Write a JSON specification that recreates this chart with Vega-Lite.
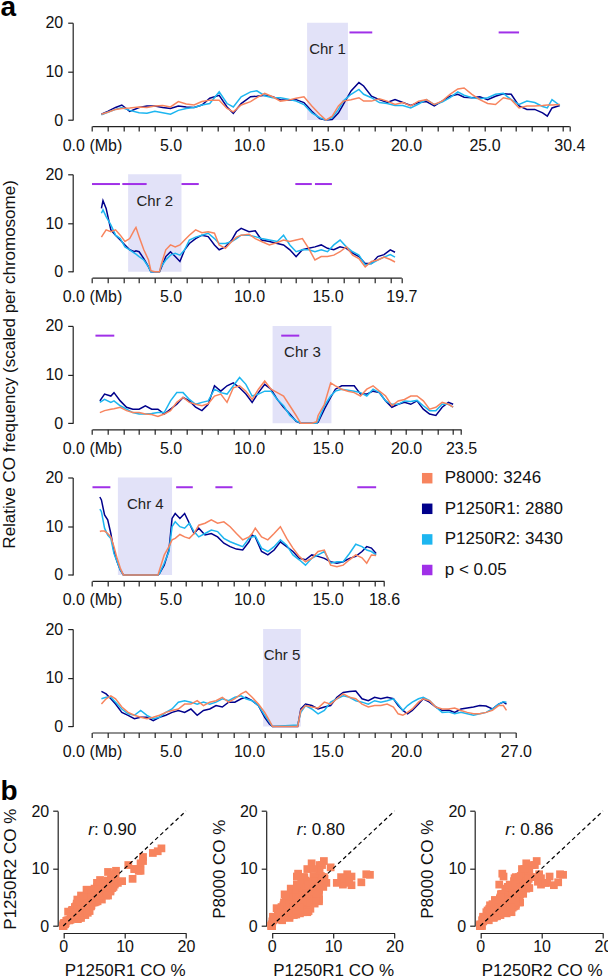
{
"$schema": "https://vega.github.io/schema/vega-lite/v6.json",
"autosize": {"type": "none"},
"padding": {"left": 72.7, "top": 22.7, "right": 535.3, "bottom": 956.3},
"background": "white",
"datasets": {
"cen": [
{"chr":1,"start":13.7,"end":16.3,"mid":15.0,"label":"Chr 1"},
{"chr":2,"start":2.3,"end":5.7,"mid":4.0,"label":"Chr 2"},
{"chr":3,"start":11.5,"end":15.25,"mid":13.4,"label":"Chr 3"},
{"chr":4,"start":1.65,"end":5.1,"mid":3.4,"label":"Chr 4"},
{"chr":5,"start":10.9,"end":13.3,"mid":12.1,"label":"Chr 5"}
],
"sig": [
{"chr":1,"start":16.4,"end":17.85},{"chr":1,"start":25.9,"end":27.2},
{"chr":2,"start":0.0,"end":1.78},{"chr":2,"start":1.93,"end":3.48},{"chr":2,"start":5.7,"end":6.8},{"chr":2,"start":12.95,"end":14.0},{"chr":2,"start":14.2,"end":15.28},
{"chr":3,"start":0.22,"end":1.42},{"chr":3,"start":12.05,"end":13.2},
{"chr":4,"start":0.03,"end":1.17},{"chr":4,"start":5.36,"end":6.42},{"chr":4,"start":7.86,"end":8.95},{"chr":4,"start":16.9,"end":18.1}
],
"rvals": [
{"panel":1,"r":": 0.90"},{"panel":2,"r":": 0.80"},{"panel":3,"r":": 0.86"}
],
"co": [
{"chr":1,"pos":0.6,"P8000":1.2,"P1250R1":1.2,"P1250R2":1.1},
{"chr":1,"pos":1.0,"P8000":1.6,"P1250R1":1.8,"P1250R2":1.6},
{"chr":1,"pos":1.5,"P8000":2.2,"P1250R1":2.6,"P1250R2":2.2},
{"chr":1,"pos":1.9,"P8000":2.4,"P1250R1":3.1,"P1250R2":2.6},
{"chr":1,"pos":2.4,"P8000":2.5,"P1250R1":1.8,"P1250R2":2.0},
{"chr":1,"pos":3.0,"P8000":2.7,"P1250R1":2.6,"P1250R2":1.5},
{"chr":1,"pos":3.5,"P8000":2.6,"P1250R1":2.9,"P1250R2":1.4},
{"chr":1,"pos":4.0,"P8000":2.9,"P1250R1":2.9,"P1250R2":1.8},
{"chr":1,"pos":4.5,"P8000":3.0,"P1250R1":2.6,"P1250R2":1.5},
{"chr":1,"pos":5.0,"P8000":2.7,"P1250R1":2.4,"P1250R2":1.2},
{"chr":1,"pos":5.5,"P8000":3.8,"P1250R1":2.9,"P1250R2":2.0},
{"chr":1,"pos":6.0,"P8000":3.3,"P1250R1":2.7,"P1250R2":2.4},
{"chr":1,"pos":6.5,"P8000":3.1,"P1250R1":2.6,"P1250R2":2.6},
{"chr":1,"pos":7.0,"P8000":3.8,"P1250R1":3.1,"P1250R2":3.1},
{"chr":1,"pos":7.5,"P8000":4.1,"P1250R1":4.5,"P1250R2":3.4},
{"chr":1,"pos":8.1,"P8000":4.1,"P1250R1":5.1,"P1250R2":5.8},
{"chr":1,"pos":8.6,"P8000":2.4,"P1250R1":2.7,"P1250R2":3.4},
{"chr":1,"pos":9.0,"P8000":1.7,"P1250R1":1.4,"P1250R2":2.7},
{"chr":1,"pos":9.5,"P8000":3.1,"P1250R1":3.4,"P1250R2":4.8},
{"chr":1,"pos":10.1,"P8000":3.8,"P1250R1":4.8,"P1250R2":5.8},
{"chr":1,"pos":10.5,"P8000":4.6,"P1250R1":4.9,"P1250R2":6.0},
{"chr":1,"pos":11.0,"P8000":5.5,"P1250R1":5.1,"P1250R2":5.0},
{"chr":1,"pos":11.5,"P8000":4.8,"P1250R1":4.8,"P1250R2":4.6},
{"chr":1,"pos":12.0,"P8000":3.9,"P1250R1":4.2,"P1250R2":4.6},
{"chr":1,"pos":12.5,"P8000":4.1,"P1250R1":4.1,"P1250R2":4.3},
{"chr":1,"pos":13.0,"P8000":4.5,"P1250R1":4.2,"P1250R2":3.9},
{"chr":1,"pos":13.5,"P8000":4.8,"P1250R1":3.6,"P1250R2":3.2},
{"chr":1,"pos":14.0,"P8000":2.9,"P1250R1":1.8,"P1250R2":1.5},
{"chr":1,"pos":14.5,"P8000":1.2,"P1250R1":0.3,"P1250R2":0.5},
{"chr":1,"pos":14.9,"P8000":0.0,"P1250R1":0.0,"P1250R2":0.0},
{"chr":1,"pos":15.3,"P8000":0.8,"P1250R1":0.1,"P1250R2":0.5},
{"chr":1,"pos":15.7,"P8000":2.9,"P1250R1":1.5,"P1250R2":2.2},
{"chr":1,"pos":16.0,"P8000":3.9,"P1250R1":3.2,"P1250R2":3.9},
{"chr":1,"pos":16.5,"P8000":4.2,"P1250R1":6.0,"P1250R2":5.3},
{"chr":1,"pos":17.0,"P8000":4.6,"P1250R1":7.7,"P1250R2":6.3},
{"chr":1,"pos":17.3,"P8000":3.9,"P1250R1":7.0,"P1250R2":5.3},
{"chr":1,"pos":17.8,"P8000":3.9,"P1250R1":4.9,"P1250R2":4.6},
{"chr":1,"pos":18.3,"P8000":4.4,"P1250R1":4.2,"P1250R2":3.6},
{"chr":1,"pos":18.8,"P8000":3.9,"P1250R1":3.6,"P1250R2":3.4},
{"chr":1,"pos":19.3,"P8000":3.2,"P1250R1":4.2,"P1250R2":3.0},
{"chr":1,"pos":19.8,"P8000":3.6,"P1250R1":3.6,"P1250R2":3.0},
{"chr":1,"pos":20.3,"P8000":2.9,"P1250R1":3.0,"P1250R2":2.5},
{"chr":1,"pos":20.8,"P8000":3.9,"P1250R1":3.6,"P1250R2":3.3},
{"chr":1,"pos":21.3,"P8000":4.2,"P1250R1":3.8,"P1250R2":4.2},
{"chr":1,"pos":21.8,"P8000":3.2,"P1250R1":2.9,"P1250R2":3.2},
{"chr":1,"pos":22.3,"P8000":3.9,"P1250R1":3.9,"P1250R2":3.7},
{"chr":1,"pos":22.8,"P8000":5.3,"P1250R1":4.9,"P1250R2":4.6},
{"chr":1,"pos":23.3,"P8000":6.4,"P1250R1":5.3,"P1250R2":5.8},
{"chr":1,"pos":23.7,"P8000":6.6,"P1250R1":4.7,"P1250R2":5.1},
{"chr":1,"pos":24.2,"P8000":5.3,"P1250R1":4.6,"P1250R2":4.6},
{"chr":1,"pos":24.7,"P8000":4.2,"P1250R1":4.8,"P1250R2":4.4},
{"chr":1,"pos":25.2,"P8000":3.4,"P1250R1":4.2,"P1250R2":4.6},
{"chr":1,"pos":25.7,"P8000":3.2,"P1250R1":4.9,"P1250R2":5.3},
{"chr":1,"pos":26.2,"P8000":4.6,"P1250R1":5.4,"P1250R2":5.5},
{"chr":1,"pos":26.7,"P8000":4.2,"P1250R1":5.3,"P1250R2":4.2},
{"chr":1,"pos":27.2,"P8000":2.5,"P1250R1":2.9,"P1250R2":3.2},
{"chr":1,"pos":27.7,"P8000":2.9,"P1250R1":2.2,"P1250R2":3.9},
{"chr":1,"pos":28.2,"P8000":2.9,"P1250R1":2.2,"P1250R2":3.6},
{"chr":1,"pos":28.7,"P8000":3.0,"P1250R1":1.5,"P1250R2":2.8},
{"chr":1,"pos":29.0,"P8000":3.1,"P1250R1":0.8,"P1250R2":2.5},
{"chr":1,"pos":29.3,"P8000":3.1,"P1250R1":2.5,"P1250R2":4.2},
{"chr":1,"pos":29.8,"P8000":3.2,"P1250R1":3.0,"P1250R2":3.0},
{"chr":2,"pos":0.6,"P8000":7.1,"P1250R1":13.0,"P1250R2":12.0},
{"chr":2,"pos":0.7,"P8000":7.6,"P1250R1":14.6,"P1250R2":12.7},
{"chr":2,"pos":0.9,"P8000":8.6,"P1250R1":13.0,"P1250R2":11.3},
{"chr":2,"pos":1.2,"P8000":8.2,"P1250R1":8.6,"P1250R2":9.6},
{"chr":2,"pos":1.5,"P8000":8.6,"P1250R1":7.5,"P1250R2":7.5},
{"chr":2,"pos":1.8,"P8000":7.5,"P1250R1":6.5,"P1250R2":6.8},
{"chr":2,"pos":2.1,"P8000":6.2,"P1250R1":5.5,"P1250R2":5.1},
{"chr":2,"pos":2.4,"P8000":6.8,"P1250R1":4.5,"P1250R2":4.5},
{"chr":2,"pos":2.7,"P8000":8.6,"P1250R1":4.1,"P1250R2":3.8},
{"chr":2,"pos":2.8,"P8000":9.1,"P1250R1":4.3,"P1250R2":3.6},
{"chr":2,"pos":3.0,"P8000":7.2,"P1250R1":4.1,"P1250R2":3.1},
{"chr":2,"pos":3.3,"P8000":4.5,"P1250R1":2.7,"P1250R2":2.4},
{"chr":2,"pos":3.6,"P8000":2.4,"P1250R1":1.0,"P1250R2":1.0},
{"chr":2,"pos":3.75,"P8000":0.2,"P1250R1":0.0,"P1250R2":0.0},
{"chr":2,"pos":4.0,"P8000":0.0,"P1250R1":0.0,"P1250R2":0.0},
{"chr":2,"pos":4.3,"P8000":0.0,"P1250R1":0.0,"P1250R2":0.0},
{"chr":2,"pos":4.4,"P8000":1.4,"P1250R1":0.7,"P1250R2":1.0},
{"chr":2,"pos":4.7,"P8000":4.5,"P1250R1":3.1,"P1250R2":2.4},
{"chr":2,"pos":5.0,"P8000":5.5,"P1250R1":4.1,"P1250R2":3.4},
{"chr":2,"pos":5.3,"P8000":5.1,"P1250R1":3.1,"P1250R2":3.8},
{"chr":2,"pos":5.6,"P8000":5.5,"P1250R1":2.1,"P1250R2":3.4},
{"chr":2,"pos":5.9,"P8000":6.5,"P1250R1":4.5,"P1250R2":4.5},
{"chr":2,"pos":6.2,"P8000":7.5,"P1250R1":5.8,"P1250R2":6.5},
{"chr":2,"pos":6.6,"P8000":8.6,"P1250R1":6.8,"P1250R2":7.1},
{"chr":2,"pos":7.0,"P8000":8.0,"P1250R1":7.5,"P1250R2":7.5},
{"chr":2,"pos":7.4,"P8000":8.2,"P1250R1":7.2,"P1250R2":7.9},
{"chr":2,"pos":7.8,"P8000":7.9,"P1250R1":5.5,"P1250R2":6.8},
{"chr":2,"pos":8.1,"P8000":5.5,"P1250R1":4.5,"P1250R2":5.8},
{"chr":2,"pos":8.5,"P8000":4.8,"P1250R1":5.1,"P1250R2":5.8},
{"chr":2,"pos":8.9,"P8000":6.2,"P1250R1":6.5,"P1250R2":6.2},
{"chr":2,"pos":9.2,"P8000":7.1,"P1250R1":8.2,"P1250R2":6.8},
{"chr":2,"pos":9.5,"P8000":7.5,"P1250R1":8.9,"P1250R2":7.5},
{"chr":2,"pos":10.0,"P8000":7.7,"P1250R1":8.2,"P1250R2":7.5},
{"chr":2,"pos":10.4,"P8000":6.8,"P1250R1":8.4,"P1250R2":7.2},
{"chr":2,"pos":10.8,"P8000":6.2,"P1250R1":6.5,"P1250R2":6.8},
{"chr":2,"pos":11.3,"P8000":5.5,"P1250R1":6.2,"P1250R2":6.5},
{"chr":2,"pos":11.8,"P8000":6.0,"P1250R1":5.8,"P1250R2":6.2},
{"chr":2,"pos":12.2,"P8000":6.5,"P1250R1":5.5,"P1250R2":7.5},
{"chr":2,"pos":12.6,"P8000":6.2,"P1250R1":4.5,"P1250R2":5.5},
{"chr":2,"pos":13.0,"P8000":6.5,"P1250R1":3.1,"P1250R2":4.1},
{"chr":2,"pos":13.4,"P8000":6.8,"P1250R1":4.5,"P1250R2":4.5},
{"chr":2,"pos":13.8,"P8000":4.8,"P1250R1":4.8,"P1250R2":4.5},
{"chr":2,"pos":14.2,"P8000":2.4,"P1250R1":5.1,"P1250R2":4.1},
{"chr":2,"pos":14.6,"P8000":3.1,"P1250R1":5.5,"P1250R2":4.5},
{"chr":2,"pos":15.0,"P8000":3.1,"P1250R1":4.8,"P1250R2":4.1},
{"chr":2,"pos":15.4,"P8000":3.4,"P1250R1":4.5,"P1250R2":5.5},
{"chr":2,"pos":15.8,"P8000":4.1,"P1250R1":5.1,"P1250R2":6.5},
{"chr":2,"pos":16.2,"P8000":5.1,"P1250R1":4.8,"P1250R2":5.1},
{"chr":2,"pos":16.6,"P8000":3.4,"P1250R1":3.8,"P1250R2":4.1},
{"chr":2,"pos":17.0,"P8000":2.7,"P1250R1":3.1,"P1250R2":3.4},
{"chr":2,"pos":17.4,"P8000":1.0,"P1250R1":1.7,"P1250R2":1.4},
{"chr":2,"pos":17.8,"P8000":2.1,"P1250R1":1.7,"P1250R2":1.7},
{"chr":2,"pos":18.2,"P8000":2.4,"P1250R1":3.1,"P1250R2":2.4},
{"chr":2,"pos":18.6,"P8000":3.0,"P1250R1":3.5,"P1250R2":3.0},
{"chr":2,"pos":19.0,"P8000":2.5,"P1250R1":4.5,"P1250R2":3.5},
{"chr":2,"pos":19.3,"P8000":2.0,"P1250R1":4.0,"P1250R2":3.0},
{"chr":3,"pos":0.5,"P8000":2.2,"P1250R1":4.6,"P1250R2":4.3},
{"chr":3,"pos":0.8,"P8000":2.6,"P1250R1":6.0,"P1250R2":4.9},
{"chr":3,"pos":1.2,"P8000":2.9,"P1250R1":5.6,"P1250R2":4.3},
{"chr":3,"pos":1.4,"P8000":3.0,"P1250R1":6.3,"P1250R2":4.6},
{"chr":3,"pos":1.8,"P8000":3.3,"P1250R1":4.6,"P1250R2":3.6},
{"chr":3,"pos":2.2,"P8000":2.6,"P1250R1":3.3,"P1250R2":2.9},
{"chr":3,"pos":2.6,"P8000":2.2,"P1250R1":2.9,"P1250R2":2.2},
{"chr":3,"pos":3.0,"P8000":2.2,"P1250R1":2.9,"P1250R2":1.9},
{"chr":3,"pos":3.4,"P8000":1.9,"P1250R1":3.6,"P1250R2":1.9},
{"chr":3,"pos":3.8,"P8000":1.8,"P1250R1":2.9,"P1250R2":2.0},
{"chr":3,"pos":4.2,"P8000":1.4,"P1250R1":2.9,"P1250R2":2.2},
{"chr":3,"pos":4.6,"P8000":1.9,"P1250R1":1.9,"P1250R2":2.2},
{"chr":3,"pos":5.0,"P8000":2.6,"P1250R1":2.9,"P1250R2":4.6},
{"chr":3,"pos":5.4,"P8000":4.3,"P1250R1":3.9,"P1250R2":6.3},
{"chr":3,"pos":5.8,"P8000":5.3,"P1250R1":5.3,"P1250R2":6.3},
{"chr":3,"pos":6.2,"P8000":4.3,"P1250R1":4.6,"P1250R2":4.9},
{"chr":3,"pos":6.6,"P8000":3.9,"P1250R1":3.3,"P1250R2":3.9},
{"chr":3,"pos":7.0,"P8000":3.6,"P1250R1":2.6,"P1250R2":4.3},
{"chr":3,"pos":7.4,"P8000":4.0,"P1250R1":3.9,"P1250R2":4.6},
{"chr":3,"pos":7.8,"P8000":5.6,"P1250R1":7.7,"P1250R2":7.0},
{"chr":3,"pos":8.2,"P8000":6.0,"P1250R1":6.6,"P1250R2":6.3},
{"chr":3,"pos":8.6,"P8000":4.3,"P1250R1":7.7,"P1250R2":6.0},
{"chr":3,"pos":9.0,"P8000":7.3,"P1250R1":8.3,"P1250R2":7.7},
{"chr":3,"pos":9.4,"P8000":7.7,"P1250R1":7.3,"P1250R2":9.4},
{"chr":3,"pos":9.8,"P8000":6.6,"P1250R1":6.0,"P1250R2":8.0},
{"chr":3,"pos":10.2,"P8000":4.9,"P1250R1":4.3,"P1250R2":5.6},
{"chr":3,"pos":10.6,"P8000":7.0,"P1250R1":6.3,"P1250R2":6.0},
{"chr":3,"pos":11.0,"P8000":8.7,"P1250R1":8.0,"P1250R2":6.6},
{"chr":3,"pos":11.4,"P8000":7.0,"P1250R1":7.0,"P1250R2":6.6},
{"chr":3,"pos":11.8,"P8000":6.3,"P1250R1":4.9,"P1250R2":4.9},
{"chr":3,"pos":12.2,"P8000":5.6,"P1250R1":3.3,"P1250R2":3.6},
{"chr":3,"pos":12.6,"P8000":3.6,"P1250R1":1.9,"P1250R2":1.6},
{"chr":3,"pos":13.0,"P8000":1.6,"P1250R1":0.4,"P1250R2":0.5},
{"chr":3,"pos":13.3,"P8000":0.0,"P1250R1":0.0,"P1250R2":0.0},
{"chr":3,"pos":14.0,"P8000":0.0,"P1250R1":0.0,"P1250R2":0.0},
{"chr":3,"pos":14.3,"P8000":0.3,"P1250R1":0.0,"P1250R2":0.0},
{"chr":3,"pos":14.4,"P8000":1.6,"P1250R1":0.2,"P1250R2":0.5},
{"chr":3,"pos":14.8,"P8000":3.9,"P1250R1":2.9,"P1250R2":3.6},
{"chr":3,"pos":15.2,"P8000":8.3,"P1250R1":5.3,"P1250R2":5.6},
{"chr":3,"pos":15.5,"P8000":7.7,"P1250R1":7.0,"P1250R2":6.6},
{"chr":3,"pos":15.9,"P8000":7.0,"P1250R1":7.7,"P1250R2":7.0},
{"chr":3,"pos":16.3,"P8000":6.6,"P1250R1":7.7,"P1250R2":6.8},
{"chr":3,"pos":16.7,"P8000":6.3,"P1250R1":7.7,"P1250R2":6.6},
{"chr":3,"pos":17.1,"P8000":5.6,"P1250R1":6.0,"P1250R2":6.3},
{"chr":3,"pos":17.5,"P8000":7.0,"P1250R1":6.0,"P1250R2":5.6},
{"chr":3,"pos":17.9,"P8000":7.7,"P1250R1":6.6,"P1250R2":7.0},
{"chr":3,"pos":18.3,"P8000":6.6,"P1250R1":6.3,"P1250R2":6.3},
{"chr":3,"pos":18.7,"P8000":5.6,"P1250R1":4.6,"P1250R2":4.6},
{"chr":3,"pos":19.1,"P8000":3.6,"P1250R1":3.3,"P1250R2":3.9},
{"chr":3,"pos":19.5,"P8000":4.6,"P1250R1":3.9,"P1250R2":3.9},
{"chr":3,"pos":19.9,"P8000":4.9,"P1250R1":4.3,"P1250R2":4.6},
{"chr":3,"pos":20.3,"P8000":5.6,"P1250R1":3.9,"P1250R2":4.5},
{"chr":3,"pos":20.7,"P8000":5.6,"P1250R1":4.6,"P1250R2":4.7},
{"chr":3,"pos":21.1,"P8000":4.6,"P1250R1":2.9,"P1250R2":3.6},
{"chr":3,"pos":21.5,"P8000":2.9,"P1250R1":1.9,"P1250R2":2.6},
{"chr":3,"pos":21.9,"P8000":3.3,"P1250R1":1.6,"P1250R2":2.6},
{"chr":3,"pos":22.3,"P8000":4.3,"P1250R1":3.3,"P1250R2":3.9},
{"chr":3,"pos":22.7,"P8000":3.9,"P1250R1":4.3,"P1250R2":3.9},
{"chr":3,"pos":23.0,"P8000":3.3,"P1250R1":3.9,"P1250R2":3.3},
{"chr":4,"pos":0.5,"P8000":8.9,"P1250R1":16.0,"P1250R2":13.5},
{"chr":4,"pos":0.6,"P8000":9.0,"P1250R1":15.4,"P1250R2":13.0},
{"chr":4,"pos":0.8,"P8000":9.0,"P1250R1":12.3,"P1250R2":9.6},
{"chr":4,"pos":1.0,"P8000":8.5,"P1250R1":11.3,"P1250R2":8.2},
{"chr":4,"pos":1.2,"P8000":7.8,"P1250R1":8.5,"P1250R2":7.5},
{"chr":4,"pos":1.4,"P8000":5.8,"P1250R1":4.8,"P1250R2":4.4},
{"chr":4,"pos":1.6,"P8000":3.4,"P1250R1":2.7,"P1250R2":2.7},
{"chr":4,"pos":1.8,"P8000":1.4,"P1250R1":1.0,"P1250R2":1.0},
{"chr":4,"pos":2.0,"P8000":0.0,"P1250R1":0.0,"P1250R2":0.0},
{"chr":4,"pos":4.2,"P8000":0.0,"P1250R1":0.0,"P1250R2":0.0},
{"chr":4,"pos":4.3,"P8000":1.0,"P1250R1":0.3,"P1250R2":0.3},
{"chr":4,"pos":4.6,"P8000":4.1,"P1250R1":2.0,"P1250R2":2.4},
{"chr":4,"pos":4.9,"P8000":5.8,"P1250R1":5.1,"P1250R2":4.8},
{"chr":4,"pos":5.1,"P8000":7.2,"P1250R1":11.6,"P1250R2":9.9},
{"chr":4,"pos":5.3,"P8000":7.5,"P1250R1":12.6,"P1250R2":10.9},
{"chr":4,"pos":5.6,"P8000":8.3,"P1250R1":11.6,"P1250R2":9.9},
{"chr":4,"pos":5.9,"P8000":7.8,"P1250R1":12.6,"P1250R2":9.6},
{"chr":4,"pos":6.2,"P8000":7.5,"P1250R1":10.6,"P1250R2":10.6},
{"chr":4,"pos":6.5,"P8000":8.5,"P1250R1":8.5,"P1250R2":8.9},
{"chr":4,"pos":6.8,"P8000":10.2,"P1250R1":9.6,"P1250R2":7.8},
{"chr":4,"pos":7.2,"P8000":10.6,"P1250R1":8.2,"P1250R2":8.5},
{"chr":4,"pos":7.6,"P8000":11.3,"P1250R1":8.5,"P1250R2":9.2},
{"chr":4,"pos":8.0,"P8000":10.6,"P1250R1":7.8,"P1250R2":8.9},
{"chr":4,"pos":8.4,"P8000":10.9,"P1250R1":6.5,"P1250R2":7.5},
{"chr":4,"pos":8.8,"P8000":9.9,"P1250R1":5.8,"P1250R2":6.8},
{"chr":4,"pos":9.2,"P8000":8.5,"P1250R1":5.3,"P1250R2":6.3},
{"chr":4,"pos":9.6,"P8000":7.2,"P1250R1":5.1,"P1250R2":5.8},
{"chr":4,"pos":10.0,"P8000":7.8,"P1250R1":6.8,"P1250R2":7.5},
{"chr":4,"pos":10.2,"P8000":8.5,"P1250R1":8.2,"P1250R2":7.8},
{"chr":4,"pos":10.4,"P8000":9.6,"P1250R1":7.8,"P1250R2":8.0},
{"chr":4,"pos":10.8,"P8000":7.8,"P1250R1":4.8,"P1250R2":5.5},
{"chr":4,"pos":11.2,"P8000":7.2,"P1250R1":4.1,"P1250R2":4.8},
{"chr":4,"pos":11.6,"P8000":8.5,"P1250R1":5.1,"P1250R2":5.8},
{"chr":4,"pos":12.0,"P8000":9.9,"P1250R1":6.8,"P1250R2":7.2},
{"chr":4,"pos":12.4,"P8000":7.5,"P1250R1":5.8,"P1250R2":6.1},
{"chr":4,"pos":12.8,"P8000":5.5,"P1250R1":4.8,"P1250R2":4.1},
{"chr":4,"pos":13.2,"P8000":3.8,"P1250R1":3.4,"P1250R2":3.1},
{"chr":4,"pos":13.6,"P8000":2.7,"P1250R1":3.1,"P1250R2":2.0},
{"chr":4,"pos":14.0,"P8000":3.4,"P1250R1":4.1,"P1250R2":3.4},
{"chr":4,"pos":14.4,"P8000":4.8,"P1250R1":3.8,"P1250R2":4.1},
{"chr":4,"pos":14.8,"P8000":5.1,"P1250R1":3.4,"P1250R2":4.8},
{"chr":4,"pos":15.2,"P8000":2.0,"P1250R1":2.7,"P1250R2":2.4},
{"chr":4,"pos":15.6,"P8000":1.7,"P1250R1":2.4,"P1250R2":2.7},
{"chr":4,"pos":16.0,"P8000":2.0,"P1250R1":2.7,"P1250R2":2.7},
{"chr":4,"pos":16.4,"P8000":3.1,"P1250R1":3.4,"P1250R2":4.4},
{"chr":4,"pos":16.8,"P8000":4.1,"P1250R1":3.8,"P1250R2":6.3},
{"chr":4,"pos":17.2,"P8000":3.5,"P1250R1":4.8,"P1250R2":5.8},
{"chr":4,"pos":17.5,"P8000":2.4,"P1250R1":5.8,"P1250R2":5.1},
{"chr":4,"pos":17.8,"P8000":4.1,"P1250R1":5.5,"P1250R2":4.8},
{"chr":4,"pos":18.1,"P8000":4.0,"P1250R1":4.4,"P1250R2":4.1},
{"chr":5,"pos":0.6,"P8000":4.6,"P1250R1":7.2,"P1250R2":5.7},
{"chr":5,"pos":0.9,"P8000":5.7,"P1250R1":6.7,"P1250R2":6.0},
{"chr":5,"pos":1.2,"P8000":6.3,"P1250R1":5.7,"P1250R2":6.0},
{"chr":5,"pos":1.5,"P8000":5.7,"P1250R1":4.6,"P1250R2":5.0},
{"chr":5,"pos":1.9,"P8000":4.0,"P1250R1":2.9,"P1250R2":3.6},
{"chr":5,"pos":2.3,"P8000":2.9,"P1250R1":2.3,"P1250R2":2.6},
{"chr":5,"pos":2.7,"P8000":2.3,"P1250R1":1.6,"P1250R2":2.3},
{"chr":5,"pos":3.1,"P8000":1.9,"P1250R1":1.9,"P1250R2":3.3},
{"chr":5,"pos":3.5,"P8000":1.6,"P1250R1":1.9,"P1250R2":2.3},
{"chr":5,"pos":3.9,"P8000":1.9,"P1250R1":1.2,"P1250R2":1.6},
{"chr":5,"pos":4.3,"P8000":2.3,"P1250R1":1.9,"P1250R2":1.9},
{"chr":5,"pos":4.7,"P8000":2.9,"P1250R1":2.3,"P1250R2":2.9},
{"chr":5,"pos":5.1,"P8000":3.3,"P1250R1":2.9,"P1250R2":3.6},
{"chr":5,"pos":5.5,"P8000":3.6,"P1250R1":3.3,"P1250R2":5.0},
{"chr":5,"pos":5.9,"P8000":4.6,"P1250R1":2.9,"P1250R2":5.3},
{"chr":5,"pos":6.3,"P8000":4.6,"P1250R1":3.6,"P1250R2":5.0},
{"chr":5,"pos":6.7,"P8000":5.3,"P1250R1":2.3,"P1250R2":4.6},
{"chr":5,"pos":7.1,"P8000":4.3,"P1250R1":3.3,"P1250R2":5.0},
{"chr":5,"pos":7.5,"P8000":5.0,"P1250R1":3.6,"P1250R2":4.6},
{"chr":5,"pos":7.9,"P8000":5.3,"P1250R1":4.3,"P1250R2":5.0},
{"chr":5,"pos":8.3,"P8000":6.0,"P1250R1":4.0,"P1250R2":5.7},
{"chr":5,"pos":8.7,"P8000":5.0,"P1250R1":5.0,"P1250R2":5.3},
{"chr":5,"pos":9.1,"P8000":5.7,"P1250R1":5.0,"P1250R2":6.0},
{"chr":5,"pos":9.5,"P8000":6.7,"P1250R1":5.7,"P1250R2":6.3},
{"chr":5,"pos":9.8,"P8000":7.2,"P1250R1":6.0,"P1250R2":5.7},
{"chr":5,"pos":10.2,"P8000":6.0,"P1250R1":5.3,"P1250R2":5.3},
{"chr":5,"pos":10.6,"P8000":4.6,"P1250R1":4.3,"P1250R2":4.3},
{"chr":5,"pos":11.0,"P8000":2.9,"P1250R1":1.9,"P1250R2":2.3},
{"chr":5,"pos":11.3,"P8000":1.2,"P1250R1":0.5,"P1250R2":0.9},
{"chr":5,"pos":11.5,"P8000":0.0,"P1250R1":0.0,"P1250R2":0.0},
{"chr":5,"pos":13.1,"P8000":0.0,"P1250R1":0.0,"P1250R2":0.3},
{"chr":5,"pos":13.3,"P8000":3.3,"P1250R1":3.6,"P1250R2":2.9},
{"chr":5,"pos":13.6,"P8000":4.3,"P1250R1":4.6,"P1250R2":4.3},
{"chr":5,"pos":14.0,"P8000":4.0,"P1250R1":4.3,"P1250R2":3.6},
{"chr":5,"pos":14.4,"P8000":3.8,"P1250R1":3.6,"P1250R2":2.6},
{"chr":5,"pos":14.8,"P8000":5.0,"P1250R1":4.0,"P1250R2":3.3},
{"chr":5,"pos":15.2,"P8000":4.6,"P1250R1":4.3,"P1250R2":5.0},
{"chr":5,"pos":15.6,"P8000":5.7,"P1250R1":6.0,"P1250R2":5.7},
{"chr":5,"pos":16.0,"P8000":6.7,"P1250R1":7.0,"P1250R2":6.3},
{"chr":5,"pos":16.4,"P8000":6.0,"P1250R1":7.2,"P1250R2":6.0},
{"chr":5,"pos":16.8,"P8000":5.7,"P1250R1":7.3,"P1250R2":5.3},
{"chr":5,"pos":17.2,"P8000":4.6,"P1250R1":5.7,"P1250R2":5.0},
{"chr":5,"pos":17.6,"P8000":4.0,"P1250R1":5.3,"P1250R2":4.6},
{"chr":5,"pos":18.0,"P8000":4.3,"P1250R1":6.0,"P1250R2":5.3},
{"chr":5,"pos":18.4,"P8000":4.3,"P1250R1":5.7,"P1250R2":5.0},
{"chr":5,"pos":18.8,"P8000":4.6,"P1250R1":6.0,"P1250R2":5.3},
{"chr":5,"pos":19.2,"P8000":4.0,"P1250R1":5.7,"P1250R2":5.7},
{"chr":5,"pos":19.5,"P8000":2.6,"P1250R1":4.3,"P1250R2":4.6},
{"chr":5,"pos":19.8,"P8000":2.3,"P1250R1":3.3,"P1250R2":3.3},
{"chr":5,"pos":20.1,"P8000":2.9,"P1250R1":2.6,"P1250R2":4.3},
{"chr":5,"pos":20.4,"P8000":3.6,"P1250R1":3.3,"P1250R2":5.0},
{"chr":5,"pos":20.8,"P8000":5.0,"P1250R1":4.6,"P1250R2":5.7},
{"chr":5,"pos":21.1,"P8000":5.7,"P1250R1":5.7,"P1250R2":6.0},
{"chr":5,"pos":21.5,"P8000":5.3,"P1250R1":5.0,"P1250R2":5.3},
{"chr":5,"pos":21.9,"P8000":4.0,"P1250R1":4.0,"P1250R2":4.0},
{"chr":5,"pos":22.3,"P8000":3.6,"P1250R1":3.3,"P1250R2":2.9},
{"chr":5,"pos":22.7,"P8000":3.6,"P1250R1":3.4,"P1250R2":3.0},
{"chr":5,"pos":23.1,"P8000":3.8,"P1250R1":2.9,"P1250R2":2.6},
{"chr":5,"pos":23.5,"P8000":3.3,"P1250R1":3.6,"P1250R2":2.9},
{"chr":5,"pos":23.9,"P8000":2.9,"P1250R1":3.8,"P1250R2":2.6},
{"chr":5,"pos":24.3,"P8000":2.6,"P1250R1":4.0,"P1250R2":2.3},
{"chr":5,"pos":24.7,"P8000":2.6,"P1250R1":4.3,"P1250R2":2.6},
{"chr":5,"pos":25.1,"P8000":2.9,"P1250R1":4.2,"P1250R2":2.9},
{"chr":5,"pos":25.5,"P8000":3.3,"P1250R1":3.6,"P1250R2":3.6},
{"chr":5,"pos":25.9,"P8000":4.3,"P1250R1":4.6,"P1250R2":4.6},
{"chr":5,"pos":26.2,"P8000":4.3,"P1250R1":5.0,"P1250R2":5.1},
{"chr":5,"pos":26.4,"P8000":3.3,"P1250R1":4.6,"P1250R2":5.0}
]
},
"bounds": "flush",
"spacing": 53.6,
"vconcat": [
{
"width": 496.6, "height": 97.4,
"layer": [
{"data": {"name": "cen"}, "transform": [{"filter": "datum.chr == 1"}], "mark": {"type": "rect", "color": "#E2E2F8"},
 "encoding": {
  "x": {"field": "start", "type": "quantitative", "scale": {"domain": [0, 30.4], "range": [19.3, 496.6], "nice": false, "zero": false},
        "axis": {"title": null, "tickCount": 200, "values": [0,1,2,3,4,5,6,7,8,9,10,11,12,13,14,15,16,17,18,19,20,21,22,23,24,25,26,27,28,29,30,30.4], "labelExpr": "datum.value == 0 ? '0.0 (Mb)' : datum.value == 30.4 ? '30.4' : (datum.value % 5 == 0 && datum.value < 27.9) ? format(datum.value, '.1f') : ''", "offset": 6, "labelPadding": 6, "labelOverlap": false, "labelSeparation": -200, "labelFlush": false}},
  "x2": {"field": "end"},
  "y": {"datum": 0, "type": "quantitative", "scale": {"domain": [0, 20], "nice": false, "zero": false}, "axis": {"title": null, "values": [0, 10, 20], "labelPadding": 5}},
  "y2": {"datum": 20}
 }},
{"data": {"name": "cen"}, "transform": [{"filter": "datum.chr == 1"}], "mark": {"type": "text", "fontSize": 15, "color": "#222", "baseline": "middle"},
 "encoding": {"x": {"field": "mid", "type": "quantitative"}, "y": {"datum": 14.6, "type": "quantitative"}, "text": {"field": "label"}}},
{"data": {"name": "cen"}, "transform": [{"filter": "datum.chr == 1"}], "mark": {"type": "text", "fontSize": 28, "fontWeight": "bold", "color": "#000", "align": "left", "baseline": "alphabetic"},
 "encoding": {"x": {"datum": -5.83, "type": "quantitative"}, "y": {"datum": 21.4, "type": "quantitative"}, "text": {"value": "a"}}},
{"data": {"name": "sig"}, "transform": [{"filter": "datum.chr == 1"}], "mark": {"type": "rule", "strokeWidth": 2},
 "encoding": {"x": {"field": "start", "type": "quantitative"}, "x2": {"field": "end"}, "y": {"datum": 18, "type": "quantitative"},
  "color": {"datum": "p < 0.05", "type": "nominal", "scale": {"domain": ["P8000: 3246", "P1250R1: 2880", "P1250R2: 3430", "p < 0.05"], "range": ["#F7845E", "#00008B", "#1DB6F0", "#A030E8"]}, "legend": {"title": null, "orient": "none", "legendX": 346, "legendY": 447, "symbolType": "square", "symbolSize": 110, "symbolStrokeWidth": 0, "labelFontSize": 17, "labelColor": "#111", "labelOffset": 9, "rowPadding": 12.6, "padding": 0, "encode": {"symbols": {"update": {"fill": {"scale": "color", "field": "value"}, "stroke": {"value": "transparent"}, "opacity": {"value": 1}}}}}}}},
{"data": {"name": "co"}, "transform": [{"filter": "datum.chr == 1"}], "mark": {"type": "line", "strokeWidth": 1.5},
 "encoding": {"x": {"field": "pos", "type": "quantitative"}, "y": {"field": "P1250R1", "type": "quantitative"},
  "color": {"datum": "P1250R1: 2880", "type": "nominal", "scale": {"domain": ["P8000: 3246", "P1250R1: 2880", "P1250R2: 3430", "p < 0.05"], "range": ["#F7845E", "#00008B", "#1DB6F0", "#A030E8"]}, "legend": {"title": null, "orient": "none", "legendX": 346, "legendY": 447, "symbolType": "square", "symbolSize": 110, "symbolStrokeWidth": 0, "labelFontSize": 17, "labelColor": "#111", "labelOffset": 9, "rowPadding": 12.6, "padding": 0, "encode": {"symbols": {"update": {"fill": {"scale": "color", "field": "value"}, "stroke": {"value": "transparent"}, "opacity": {"value": 1}}}}}}}},
{"data": {"name": "co"}, "transform": [{"filter": "datum.chr == 1"}], "mark": {"type": "line", "strokeWidth": 1.5},
 "encoding": {"x": {"field": "pos", "type": "quantitative"}, "y": {"field": "P1250R2", "type": "quantitative"},
  "color": {"datum": "P1250R2: 3430", "type": "nominal", "scale": {"domain": ["P8000: 3246", "P1250R1: 2880", "P1250R2: 3430", "p < 0.05"], "range": ["#F7845E", "#00008B", "#1DB6F0", "#A030E8"]}, "legend": {"title": null, "orient": "none", "legendX": 346, "legendY": 447, "symbolType": "square", "symbolSize": 110, "symbolStrokeWidth": 0, "labelFontSize": 17, "labelColor": "#111", "labelOffset": 9, "rowPadding": 12.6, "padding": 0, "encode": {"symbols": {"update": {"fill": {"scale": "color", "field": "value"}, "stroke": {"value": "transparent"}, "opacity": {"value": 1}}}}}}}},
{"data": {"name": "co"}, "transform": [{"filter": "datum.chr == 1"}], "mark": {"type": "line", "strokeWidth": 1.5},
 "encoding": {"x": {"field": "pos", "type": "quantitative"}, "y": {"field": "P8000", "type": "quantitative"},
  "color": {"datum": "P8000: 3246", "type": "nominal", "scale": {"domain": ["P8000: 3246", "P1250R1: 2880", "P1250R2: 3430", "p < 0.05"], "range": ["#F7845E", "#00008B", "#1DB6F0", "#A030E8"]}, "legend": {"title": null, "orient": "none", "legendX": 346, "legendY": 447, "symbolType": "square", "symbolSize": 110, "symbolStrokeWidth": 0, "labelFontSize": 17, "labelColor": "#111", "labelOffset": 9, "rowPadding": 12.6, "padding": 0, "encode": {"symbols": {"update": {"fill": {"scale": "color", "field": "value"}, "stroke": {"value": "transparent"}, "opacity": {"value": 1}}}}}}}}
]
},
{
"width": 328.6, "height": 97.4,
"layer": [
{"data": {"name": "cen"}, "transform": [{"filter": "datum.chr == 2"}], "mark": {"type": "rect", "color": "#E2E2F8"},
 "encoding": {
  "x": {"field": "start", "type": "quantitative", "scale": {"domain": [0, 19.7], "range": [19.3, 328.6], "nice": false, "zero": false},
        "axis": {"title": null, "tickCount": 200, "values": [0,1,2,3,4,5,6,7,8,9,10,11,12,13,14,15,16,17,18,19,19.7], "labelExpr": "datum.value == 0 ? '0.0 (Mb)' : datum.value == 19.7 ? '19.7' : (datum.value % 5 == 0 && datum.value < 17.2) ? format(datum.value, '.1f') : ''", "offset": 6, "labelPadding": 6, "labelOverlap": false, "labelSeparation": -200, "labelFlush": false}},
  "x2": {"field": "end"},
  "y": {"datum": 0, "type": "quantitative", "scale": {"domain": [0, 20], "nice": false, "zero": false}, "axis": {"title": null, "values": [0, 10, 20], "labelPadding": 5}},
  "y2": {"datum": 20}
 }},
{"data": {"name": "cen"}, "transform": [{"filter": "datum.chr == 2"}], "mark": {"type": "text", "fontSize": 15, "color": "#222", "baseline": "middle"},
 "encoding": {"x": {"field": "mid", "type": "quantitative"}, "y": {"datum": 14.6, "type": "quantitative"}, "text": {"field": "label"}}},
{"data": {"name": "sig"}, "transform": [{"filter": "datum.chr == 2"}], "mark": {"type": "rule", "strokeWidth": 2},
 "encoding": {"x": {"field": "start", "type": "quantitative"}, "x2": {"field": "end"}, "y": {"datum": 18, "type": "quantitative"},
  "color": {"datum": "p < 0.05", "type": "nominal", "scale": {"domain": ["P8000: 3246", "P1250R1: 2880", "P1250R2: 3430", "p < 0.05"], "range": ["#F7845E", "#00008B", "#1DB6F0", "#A030E8"]}, "legend": {"title": null, "orient": "none", "legendX": 346, "legendY": 447, "symbolType": "square", "symbolSize": 110, "symbolStrokeWidth": 0, "labelFontSize": 17, "labelColor": "#111", "labelOffset": 9, "rowPadding": 12.6, "padding": 0, "encode": {"symbols": {"update": {"fill": {"scale": "color", "field": "value"}, "stroke": {"value": "transparent"}, "opacity": {"value": 1}}}}}}}},
{"data": {"name": "co"}, "transform": [{"filter": "datum.chr == 2"}], "mark": {"type": "line", "strokeWidth": 1.5},
 "encoding": {"x": {"field": "pos", "type": "quantitative"}, "y": {"field": "P1250R1", "type": "quantitative"},
  "color": {"datum": "P1250R1: 2880", "type": "nominal", "scale": {"domain": ["P8000: 3246", "P1250R1: 2880", "P1250R2: 3430", "p < 0.05"], "range": ["#F7845E", "#00008B", "#1DB6F0", "#A030E8"]}, "legend": {"title": null, "orient": "none", "legendX": 346, "legendY": 447, "symbolType": "square", "symbolSize": 110, "symbolStrokeWidth": 0, "labelFontSize": 17, "labelColor": "#111", "labelOffset": 9, "rowPadding": 12.6, "padding": 0, "encode": {"symbols": {"update": {"fill": {"scale": "color", "field": "value"}, "stroke": {"value": "transparent"}, "opacity": {"value": 1}}}}}}}},
{"data": {"name": "co"}, "transform": [{"filter": "datum.chr == 2"}], "mark": {"type": "line", "strokeWidth": 1.5},
 "encoding": {"x": {"field": "pos", "type": "quantitative"}, "y": {"field": "P1250R2", "type": "quantitative"},
  "color": {"datum": "P1250R2: 3430", "type": "nominal", "scale": {"domain": ["P8000: 3246", "P1250R1: 2880", "P1250R2: 3430", "p < 0.05"], "range": ["#F7845E", "#00008B", "#1DB6F0", "#A030E8"]}, "legend": {"title": null, "orient": "none", "legendX": 346, "legendY": 447, "symbolType": "square", "symbolSize": 110, "symbolStrokeWidth": 0, "labelFontSize": 17, "labelColor": "#111", "labelOffset": 9, "rowPadding": 12.6, "padding": 0, "encode": {"symbols": {"update": {"fill": {"scale": "color", "field": "value"}, "stroke": {"value": "transparent"}, "opacity": {"value": 1}}}}}}}},
{"data": {"name": "co"}, "transform": [{"filter": "datum.chr == 2"}], "mark": {"type": "line", "strokeWidth": 1.5},
 "encoding": {"x": {"field": "pos", "type": "quantitative"}, "y": {"field": "P8000", "type": "quantitative"},
  "color": {"datum": "P8000: 3246", "type": "nominal", "scale": {"domain": ["P8000: 3246", "P1250R1: 2880", "P1250R2: 3430", "p < 0.05"], "range": ["#F7845E", "#00008B", "#1DB6F0", "#A030E8"]}, "legend": {"title": null, "orient": "none", "legendX": 346, "legendY": 447, "symbolType": "square", "symbolSize": 110, "symbolStrokeWidth": 0, "labelFontSize": 17, "labelColor": "#111", "labelOffset": 9, "rowPadding": 12.6, "padding": 0, "encode": {"symbols": {"update": {"fill": {"scale": "color", "field": "value"}, "stroke": {"value": "transparent"}, "opacity": {"value": 1}}}}}}}}
]
},
{
"width": 388.3, "height": 97.4,
"layer": [
{"data": {"name": "cen"}, "transform": [{"filter": "datum.chr == 3"}], "mark": {"type": "rect", "color": "#E2E2F8"},
 "encoding": {
  "x": {"field": "start", "type": "quantitative", "scale": {"domain": [0, 23.5], "range": [19.3, 388.3], "nice": false, "zero": false},
        "axis": {"title": null, "tickCount": 200, "values": [0,1,2,3,4,5,6,7,8,9,10,11,12,13,14,15,16,17,18,19,20,21,22,23,23.5], "labelExpr": "datum.value == 0 ? '0.0 (Mb)' : datum.value == 23.5 ? '23.5' : (datum.value % 5 == 0 && datum.value < 21) ? format(datum.value, '.1f') : ''", "offset": 6, "labelPadding": 6, "labelOverlap": false, "labelSeparation": -200, "labelFlush": false}},
  "x2": {"field": "end"},
  "y": {"datum": 0, "type": "quantitative", "scale": {"domain": [0, 20], "nice": false, "zero": false}, "axis": {"title": "Relative CO frequency (scaled per chromosome)", "titleX": -58.5, "titleY": 38, "titleBaseline": "alphabetic", "values": [0, 10, 20], "labelPadding": 5}},
  "y2": {"datum": 20}
 }},
{"data": {"name": "cen"}, "transform": [{"filter": "datum.chr == 3"}], "mark": {"type": "text", "fontSize": 15, "color": "#222", "baseline": "middle"},
 "encoding": {"x": {"field": "mid", "type": "quantitative"}, "y": {"datum": 14.6, "type": "quantitative"}, "text": {"field": "label"}}},
{"data": {"name": "sig"}, "transform": [{"filter": "datum.chr == 3"}], "mark": {"type": "rule", "strokeWidth": 2},
 "encoding": {"x": {"field": "start", "type": "quantitative"}, "x2": {"field": "end"}, "y": {"datum": 18, "type": "quantitative"},
  "color": {"datum": "p < 0.05", "type": "nominal", "scale": {"domain": ["P8000: 3246", "P1250R1: 2880", "P1250R2: 3430", "p < 0.05"], "range": ["#F7845E", "#00008B", "#1DB6F0", "#A030E8"]}, "legend": {"title": null, "orient": "none", "legendX": 346, "legendY": 447, "symbolType": "square", "symbolSize": 110, "symbolStrokeWidth": 0, "labelFontSize": 17, "labelColor": "#111", "labelOffset": 9, "rowPadding": 12.6, "padding": 0, "encode": {"symbols": {"update": {"fill": {"scale": "color", "field": "value"}, "stroke": {"value": "transparent"}, "opacity": {"value": 1}}}}}}}},
{"data": {"name": "co"}, "transform": [{"filter": "datum.chr == 3"}], "mark": {"type": "line", "strokeWidth": 1.5},
 "encoding": {"x": {"field": "pos", "type": "quantitative"}, "y": {"field": "P1250R1", "type": "quantitative"},
  "color": {"datum": "P1250R1: 2880", "type": "nominal", "scale": {"domain": ["P8000: 3246", "P1250R1: 2880", "P1250R2: 3430", "p < 0.05"], "range": ["#F7845E", "#00008B", "#1DB6F0", "#A030E8"]}, "legend": {"title": null, "orient": "none", "legendX": 346, "legendY": 447, "symbolType": "square", "symbolSize": 110, "symbolStrokeWidth": 0, "labelFontSize": 17, "labelColor": "#111", "labelOffset": 9, "rowPadding": 12.6, "padding": 0, "encode": {"symbols": {"update": {"fill": {"scale": "color", "field": "value"}, "stroke": {"value": "transparent"}, "opacity": {"value": 1}}}}}}}},
{"data": {"name": "co"}, "transform": [{"filter": "datum.chr == 3"}], "mark": {"type": "line", "strokeWidth": 1.5},
 "encoding": {"x": {"field": "pos", "type": "quantitative"}, "y": {"field": "P1250R2", "type": "quantitative"},
  "color": {"datum": "P1250R2: 3430", "type": "nominal", "scale": {"domain": ["P8000: 3246", "P1250R1: 2880", "P1250R2: 3430", "p < 0.05"], "range": ["#F7845E", "#00008B", "#1DB6F0", "#A030E8"]}, "legend": {"title": null, "orient": "none", "legendX": 346, "legendY": 447, "symbolType": "square", "symbolSize": 110, "symbolStrokeWidth": 0, "labelFontSize": 17, "labelColor": "#111", "labelOffset": 9, "rowPadding": 12.6, "padding": 0, "encode": {"symbols": {"update": {"fill": {"scale": "color", "field": "value"}, "stroke": {"value": "transparent"}, "opacity": {"value": 1}}}}}}}},
{"data": {"name": "co"}, "transform": [{"filter": "datum.chr == 3"}], "mark": {"type": "line", "strokeWidth": 1.5},
 "encoding": {"x": {"field": "pos", "type": "quantitative"}, "y": {"field": "P8000", "type": "quantitative"},
  "color": {"datum": "P8000: 3246", "type": "nominal", "scale": {"domain": ["P8000: 3246", "P1250R1: 2880", "P1250R2: 3430", "p < 0.05"], "range": ["#F7845E", "#00008B", "#1DB6F0", "#A030E8"]}, "legend": {"title": null, "orient": "none", "legendX": 346, "legendY": 447, "symbolType": "square", "symbolSize": 110, "symbolStrokeWidth": 0, "labelFontSize": 17, "labelColor": "#111", "labelOffset": 9, "rowPadding": 12.6, "padding": 0, "encode": {"symbols": {"update": {"fill": {"scale": "color", "field": "value"}, "stroke": {"value": "transparent"}, "opacity": {"value": 1}}}}}}}}
]
},
{
"width": 311.3, "height": 97.4,
"layer": [
{"data": {"name": "cen"}, "transform": [{"filter": "datum.chr == 4"}], "mark": {"type": "rect", "color": "#E2E2F8"},
 "encoding": {
  "x": {"field": "start", "type": "quantitative", "scale": {"domain": [0, 18.6], "range": [19.3, 311.3], "nice": false, "zero": false},
        "axis": {"title": null, "tickCount": 200, "values": [0,1,2,3,4,5,6,7,8,9,10,11,12,13,14,15,16,17,18,18.6], "labelExpr": "datum.value == 0 ? '0.0 (Mb)' : datum.value == 18.6 ? '18.6' : (datum.value % 5 == 0 && datum.value < 16.1) ? format(datum.value, '.1f') : ''", "offset": 6, "labelPadding": 6, "labelOverlap": false, "labelSeparation": -200, "labelFlush": false}},
  "x2": {"field": "end"},
  "y": {"datum": 0, "type": "quantitative", "scale": {"domain": [0, 20], "nice": false, "zero": false}, "axis": {"title": null, "values": [0, 10, 20], "labelPadding": 5}},
  "y2": {"datum": 20}
 }},
{"data": {"name": "cen"}, "transform": [{"filter": "datum.chr == 4"}], "mark": {"type": "text", "fontSize": 15, "color": "#222", "baseline": "middle"},
 "encoding": {"x": {"field": "mid", "type": "quantitative"}, "y": {"datum": 14.6, "type": "quantitative"}, "text": {"field": "label"}}},
{"data": {"name": "sig"}, "transform": [{"filter": "datum.chr == 4"}], "mark": {"type": "rule", "strokeWidth": 2},
 "encoding": {"x": {"field": "start", "type": "quantitative"}, "x2": {"field": "end"}, "y": {"datum": 18, "type": "quantitative"},
  "color": {"datum": "p < 0.05", "type": "nominal", "scale": {"domain": ["P8000: 3246", "P1250R1: 2880", "P1250R2: 3430", "p < 0.05"], "range": ["#F7845E", "#00008B", "#1DB6F0", "#A030E8"]}, "legend": {"title": null, "orient": "none", "legendX": 346, "legendY": 447, "symbolType": "square", "symbolSize": 110, "symbolStrokeWidth": 0, "labelFontSize": 17, "labelColor": "#111", "labelOffset": 9, "rowPadding": 12.6, "padding": 0, "encode": {"symbols": {"update": {"fill": {"scale": "color", "field": "value"}, "stroke": {"value": "transparent"}, "opacity": {"value": 1}}}}}}}},
{"data": {"name": "co"}, "transform": [{"filter": "datum.chr == 4"}], "mark": {"type": "line", "strokeWidth": 1.5},
 "encoding": {"x": {"field": "pos", "type": "quantitative"}, "y": {"field": "P1250R1", "type": "quantitative"},
  "color": {"datum": "P1250R1: 2880", "type": "nominal", "scale": {"domain": ["P8000: 3246", "P1250R1: 2880", "P1250R2: 3430", "p < 0.05"], "range": ["#F7845E", "#00008B", "#1DB6F0", "#A030E8"]}, "legend": {"title": null, "orient": "none", "legendX": 346, "legendY": 447, "symbolType": "square", "symbolSize": 110, "symbolStrokeWidth": 0, "labelFontSize": 17, "labelColor": "#111", "labelOffset": 9, "rowPadding": 12.6, "padding": 0, "encode": {"symbols": {"update": {"fill": {"scale": "color", "field": "value"}, "stroke": {"value": "transparent"}, "opacity": {"value": 1}}}}}}}},
{"data": {"name": "co"}, "transform": [{"filter": "datum.chr == 4"}], "mark": {"type": "line", "strokeWidth": 1.5},
 "encoding": {"x": {"field": "pos", "type": "quantitative"}, "y": {"field": "P1250R2", "type": "quantitative"},
  "color": {"datum": "P1250R2: 3430", "type": "nominal", "scale": {"domain": ["P8000: 3246", "P1250R1: 2880", "P1250R2: 3430", "p < 0.05"], "range": ["#F7845E", "#00008B", "#1DB6F0", "#A030E8"]}, "legend": {"title": null, "orient": "none", "legendX": 346, "legendY": 447, "symbolType": "square", "symbolSize": 110, "symbolStrokeWidth": 0, "labelFontSize": 17, "labelColor": "#111", "labelOffset": 9, "rowPadding": 12.6, "padding": 0, "encode": {"symbols": {"update": {"fill": {"scale": "color", "field": "value"}, "stroke": {"value": "transparent"}, "opacity": {"value": 1}}}}}}}},
{"data": {"name": "co"}, "transform": [{"filter": "datum.chr == 4"}], "mark": {"type": "line", "strokeWidth": 1.5},
 "encoding": {"x": {"field": "pos", "type": "quantitative"}, "y": {"field": "P8000", "type": "quantitative"},
  "color": {"datum": "P8000: 3246", "type": "nominal", "scale": {"domain": ["P8000: 3246", "P1250R1: 2880", "P1250R2: 3430", "p < 0.05"], "range": ["#F7845E", "#00008B", "#1DB6F0", "#A030E8"]}, "legend": {"title": null, "orient": "none", "legendX": 346, "legendY": 447, "symbolType": "square", "symbolSize": 110, "symbolStrokeWidth": 0, "labelFontSize": 17, "labelColor": "#111", "labelOffset": 9, "rowPadding": 12.6, "padding": 0, "encode": {"symbols": {"update": {"fill": {"scale": "color", "field": "value"}, "stroke": {"value": "transparent"}, "opacity": {"value": 1}}}}}}}}
]
},
{
"width": 443.2, "height": 97.4,
"layer": [
{"data": {"name": "cen"}, "transform": [{"filter": "datum.chr == 5"}], "mark": {"type": "rect", "color": "#E2E2F8"},
 "encoding": {
  "x": {"field": "start", "type": "quantitative", "scale": {"domain": [0, 27.0], "range": [19.3, 443.2], "nice": false, "zero": false},
        "axis": {"title": null, "tickCount": 200, "values": [0,1,2,3,4,5,6,7,8,9,10,11,12,13,14,15,16,17,18,19,20,21,22,23,24,25,26,27], "labelExpr": "datum.value == 0 ? '0.0 (Mb)' : datum.value == 27 ? '27.0' : (datum.value % 5 == 0 && datum.value < 24.5) ? format(datum.value, '.1f') : ''", "offset": 6, "labelPadding": 6, "labelOverlap": false, "labelSeparation": -200, "labelFlush": false}},
  "x2": {"field": "end"},
  "y": {"datum": 0, "type": "quantitative", "scale": {"domain": [0, 20], "nice": false, "zero": false}, "axis": {"title": null, "values": [0, 10, 20], "labelPadding": 5}},
  "y2": {"datum": 20}
 }},
{"data": {"name": "cen"}, "transform": [{"filter": "datum.chr == 5"}], "mark": {"type": "text", "fontSize": 15, "color": "#222", "baseline": "middle"},
 "encoding": {"x": {"field": "mid", "type": "quantitative"}, "y": {"datum": 14.6, "type": "quantitative"}, "text": {"field": "label"}}},
{"data": {"name": "co"}, "transform": [{"filter": "datum.chr == 5"}], "mark": {"type": "line", "strokeWidth": 1.5},
 "encoding": {"x": {"field": "pos", "type": "quantitative"}, "y": {"field": "P1250R1", "type": "quantitative"},
  "color": {"datum": "P1250R1: 2880", "type": "nominal", "scale": {"domain": ["P8000: 3246", "P1250R1: 2880", "P1250R2: 3430", "p < 0.05"], "range": ["#F7845E", "#00008B", "#1DB6F0", "#A030E8"]}, "legend": {"title": null, "orient": "none", "legendX": 346, "legendY": 447, "symbolType": "square", "symbolSize": 110, "symbolStrokeWidth": 0, "labelFontSize": 17, "labelColor": "#111", "labelOffset": 9, "rowPadding": 12.6, "padding": 0, "encode": {"symbols": {"update": {"fill": {"scale": "color", "field": "value"}, "stroke": {"value": "transparent"}, "opacity": {"value": 1}}}}}}}},
{"data": {"name": "co"}, "transform": [{"filter": "datum.chr == 5"}], "mark": {"type": "line", "strokeWidth": 1.5},
 "encoding": {"x": {"field": "pos", "type": "quantitative"}, "y": {"field": "P1250R2", "type": "quantitative"},
  "color": {"datum": "P1250R2: 3430", "type": "nominal", "scale": {"domain": ["P8000: 3246", "P1250R1: 2880", "P1250R2: 3430", "p < 0.05"], "range": ["#F7845E", "#00008B", "#1DB6F0", "#A030E8"]}, "legend": {"title": null, "orient": "none", "legendX": 346, "legendY": 447, "symbolType": "square", "symbolSize": 110, "symbolStrokeWidth": 0, "labelFontSize": 17, "labelColor": "#111", "labelOffset": 9, "rowPadding": 12.6, "padding": 0, "encode": {"symbols": {"update": {"fill": {"scale": "color", "field": "value"}, "stroke": {"value": "transparent"}, "opacity": {"value": 1}}}}}}}},
{"data": {"name": "co"}, "transform": [{"filter": "datum.chr == 5"}], "mark": {"type": "line", "strokeWidth": 1.5},
 "encoding": {"x": {"field": "pos", "type": "quantitative"}, "y": {"field": "P8000", "type": "quantitative"},
  "color": {"datum": "P8000: 3246", "type": "nominal", "scale": {"domain": ["P8000: 3246", "P1250R1: 2880", "P1250R2: 3430", "p < 0.05"], "range": ["#F7845E", "#00008B", "#1DB6F0", "#A030E8"]}, "legend": {"title": null, "orient": "none", "legendX": 346, "legendY": 447, "symbolType": "square", "symbolSize": 110, "symbolStrokeWidth": 0, "labelFontSize": 17, "labelColor": "#111", "labelOffset": 9, "rowPadding": 12.6, "padding": 0, "encode": {"symbols": {"update": {"fill": {"scale": "color", "field": "value"}, "stroke": {"value": "transparent"}, "opacity": {"value": 1}}}}}}}}
]
},
{
"bounds": "flush",
"spacing": 94.5,
"hconcat": [
{
"width": 113.3, "height": 145.3,
"layer": [
{"data": {"name": "co"}, "mark": {"type": "square", "size": 60, "color": "#F7845E", "opacity": 1},
 "encoding": {
  "x": {"field": "P1250R1", "type": "quantitative", "scale": {"domain": [0, 20], "range": [-9.5, 113.3], "nice": false, "zero": false}, "axis": {"title": "P1250R1 CO %", "values": [0, 10, 20], "offset": 7, "labelPadding": 0, "titleY": 42, "titleBaseline": "alphabetic"}},
  "y": {"field": "P1250R2", "type": "quantitative", "scale": {"domain": [0, 20], "range": [145.3, 30.3], "nice": false, "zero": false}, "axis": {"title": "P1250R2 CO %", "values": [0, 10, 20], "offset": 15, "labelPadding": 4, "titleX": -42, "titleY": 88, "titleBaseline": "alphabetic"}}
 }},
{"data": {"name": "rvals"}, "transform": [{"filter": "datum.panel == 1"}], "mark": {"type": "rule", "strokeDash": [4, 3], "color": "#000", "strokeWidth": 1.2},
 "encoding": {"x": {"datum": 0, "type": "quantitative"}, "y": {"datum": 0, "type": "quantitative"}, "x2": {"datum": 20}, "y2": {"datum": 20}}},
{"data": {"name": "rvals"}, "transform": [{"filter": "datum.panel == 1"}], "mark": {"type": "text", "fontSize": 17, "fontStyle": "italic", "align": "right", "baseline": "middle", "color": "#111"},
 "encoding": {"x": {"datum": 5, "type": "quantitative"}, "y": {"datum": 16.7, "type": "quantitative"}, "text": {"value": "r"}}},
{"data": {"name": "rvals"}, "transform": [{"filter": "datum.panel == 1"}], "mark": {"type": "text", "fontSize": 17, "align": "left", "baseline": "middle", "color": "#111"},
 "encoding": {"x": {"datum": 5, "type": "quantitative"}, "y": {"datum": 16.7, "type": "quantitative"}, "text": {"field": "r"}}},
{"data": {"name": "rvals"}, "transform": [{"filter": "datum.panel == 1"}], "mark": {"type": "text", "fontSize": 28, "fontWeight": "bold", "color": "#000", "align": "left", "baseline": "alphabetic"},
 "encoding": {"x": {"datum": -10.2, "type": "quantitative"}, "y": {"datum": 21.9, "type": "quantitative"}, "text": {"value": "b"}}}
]
},
{
"width": 113.3, "height": 145.3,
"layer": [
{"data": {"name": "co"}, "mark": {"type": "square", "size": 60, "color": "#F7845E", "opacity": 1},
 "encoding": {
  "x": {"field": "P1250R1", "type": "quantitative", "scale": {"domain": [0, 20], "range": [-9.5, 113.3], "nice": false, "zero": false}, "axis": {"title": "P1250R1 CO %", "values": [0, 10, 20], "offset": 7, "labelPadding": 0, "titleY": 42, "titleBaseline": "alphabetic"}},
  "y": {"field": "P8000", "type": "quantitative", "scale": {"domain": [0, 20], "range": [145.3, 30.3], "nice": false, "zero": false}, "axis": {"title": "P8000 CO %", "values": [0, 10, 20], "offset": 15, "labelPadding": 4, "titleX": -42, "titleY": 88, "titleBaseline": "alphabetic"}}
 }},
{"data": {"name": "rvals"}, "transform": [{"filter": "datum.panel == 2"}], "mark": {"type": "rule", "strokeDash": [4, 3], "color": "#000", "strokeWidth": 1.2},
 "encoding": {"x": {"datum": 0, "type": "quantitative"}, "y": {"datum": 0, "type": "quantitative"}, "x2": {"datum": 20}, "y2": {"datum": 20}}},
{"data": {"name": "rvals"}, "transform": [{"filter": "datum.panel == 2"}], "mark": {"type": "text", "fontSize": 17, "fontStyle": "italic", "align": "right", "baseline": "middle", "color": "#111"},
 "encoding": {"x": {"datum": 5, "type": "quantitative"}, "y": {"datum": 16.7, "type": "quantitative"}, "text": {"value": "r"}}},
{"data": {"name": "rvals"}, "transform": [{"filter": "datum.panel == 2"}], "mark": {"type": "text", "fontSize": 17, "align": "left", "baseline": "middle", "color": "#111"},
 "encoding": {"x": {"datum": 5, "type": "quantitative"}, "y": {"datum": 16.7, "type": "quantitative"}, "text": {"field": "r"}}}
]
},
{
"width": 113.3, "height": 145.3,
"layer": [
{"data": {"name": "co"}, "mark": {"type": "square", "size": 60, "color": "#F7845E", "opacity": 1},
 "encoding": {
  "x": {"field": "P1250R2", "type": "quantitative", "scale": {"domain": [0, 20], "range": [-9.5, 113.3], "nice": false, "zero": false}, "axis": {"title": "P1250R2 CO %", "values": [0, 10, 20], "offset": 7, "labelPadding": 0, "titleY": 42, "titleBaseline": "alphabetic"}},
  "y": {"field": "P8000", "type": "quantitative", "scale": {"domain": [0, 20], "range": [145.3, 30.3], "nice": false, "zero": false}, "axis": {"title": "P8000 CO %", "values": [0, 10, 20], "offset": 15, "labelPadding": 4, "titleX": -42, "titleY": 88, "titleBaseline": "alphabetic"}}
 }},
{"data": {"name": "rvals"}, "transform": [{"filter": "datum.panel == 3"}], "mark": {"type": "rule", "strokeDash": [4, 3], "color": "#000", "strokeWidth": 1.2},
 "encoding": {"x": {"datum": 0, "type": "quantitative"}, "y": {"datum": 0, "type": "quantitative"}, "x2": {"datum": 20}, "y2": {"datum": 20}}},
{"data": {"name": "rvals"}, "transform": [{"filter": "datum.panel == 3"}], "mark": {"type": "text", "fontSize": 17, "fontStyle": "italic", "align": "right", "baseline": "middle", "color": "#111"},
 "encoding": {"x": {"datum": 5, "type": "quantitative"}, "y": {"datum": 16.7, "type": "quantitative"}, "text": {"value": "r"}}},
{"data": {"name": "rvals"}, "transform": [{"filter": "datum.panel == 3"}], "mark": {"type": "text", "fontSize": 17, "align": "left", "baseline": "middle", "color": "#111"},
 "encoding": {"x": {"datum": 5, "type": "quantitative"}, "y": {"datum": 16.7, "type": "quantitative"}, "text": {"field": "r"}}}
]
}
]
}
],
"config": {
 "font": "Liberation Sans",
 "view": {"stroke": null},
 "axis": {"domainColor": "#222", "tickColor": "#222", "domainWidth": 1.2, "tickWidth": 1.2, "tickSize": 5, "labelFontSize": 16, "labelColor": "#111", "titleFontSize": 17, "titleFontWeight": "normal", "titleColor": "#111", "grid": false, "labelFont": "Liberation Sans", "titleFont": "Liberation Sans", "labelOverlap": false, "labelSeparation": -200, "labelFlush": false},
 "legend": {"labelFont": "Liberation Sans"}
}
}
